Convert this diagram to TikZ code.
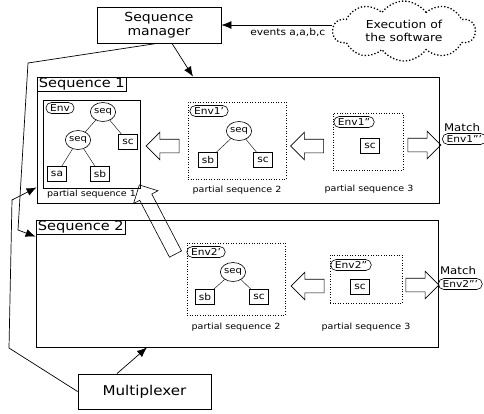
\documentclass[tikz,border=0pt]{standalone}
\usepackage{fontspec}
\setmainfont{DejaVu Sans}[FakeStretch=1.12]
\usetikzlibrary{shapes,arrows,arrows.meta,positioning,shapes.symbols,shapes.arrows,shapes.misc}
\tikzstyle{block} = [draw, rectangle, line width=0.8pt, align=center, inner sep=0pt, font=\fontsize{12.5}{14}\selectfont]
\tikzstyle{execcloud} = [draw, cloud, dotted, line width=1.3pt, cloud puffs=10, cloud puff arc=110, cloud ignores aspect, minimum width=142pt, minimum height=60pt, inner sep=0pt, align=center, font=\fontsize{11}{13}\selectfont]
\tikzstyle{flow} = [-{Latex[length=10pt,width=8pt]}, line width=0.7pt]
\tikzstyle{seqbox} = [draw, rectangle, line width=0.8pt, inner sep=0pt]
\tikzstyle{seqtitle} = [draw, rectangle, anchor=north west, inner xsep=2pt, inner ysep=0pt, minimum height=14pt, line width=0.6pt, font=\fontsize{13}{14}\selectfont]
\tikzstyle{partial} = [draw, rectangle, line width=0.6pt, inner sep=0pt]
\tikzstyle{dotpartial} = [partial, dotted]
\tikzstyle{pslabel} = [inner sep=1pt, font=\fontsize{8.5}{10}\selectfont]
\tikzstyle{leaf} = [draw, rectangle, line width=0.6pt, minimum width=19pt, minimum height=15pt, inner sep=1pt, font=\fontsize{9.5}{10}\selectfont]
\tikzstyle{op} = [draw, ellipse, line width=0.6pt, minimum width=23pt, minimum height=19pt, inner sep=0pt, font=\fontsize{9}{10}\selectfont]
\tikzstyle{env} = [draw, rounded rectangle, line width=0.6pt, inner xsep=3pt, inner ysep=0pt, minimum height=11pt, font=\fontsize{9.5}{10}\selectfont]
\tikzstyle{hollow} = [draw, single arrow, line width=0.6pt, inner xsep=0pt, inner ysep=6.5pt, single arrow head extend=7pt, minimum height=33pt]
\tikzstyle{matchtext} = [inner sep=0pt, font=\fontsize{10.5}{12}\selectfont]

\begin{document}
\begin{tikzpicture}[x=1pt,y=-1pt]
\useasboundingbox (0,0) rectangle (484,413);

\node[block, minimum width=124pt, minimum height=36pt] (manager) at (159,25) {Sequence\\manager};
\node[execcloud] (exec) at (404,31) {Execution of\\the software};
\draw[flow] (exec.west |- manager.east) -- node[pos=0.4, below, inner sep=3pt, font=\fontsize{9.5}{11}\selectfont] {events a,a,b,c} (manager.east);

% first sequence
\node[seqbox, minimum width=402pt, minimum height=126pt] (seq1) at (238,140) {};
\node[seqtitle] (seq1title) at (seq1.north west) {Sequence 1};

\node[partial, minimum width=97pt, minimum height=88pt] (ps11) at (91.5,144) {};
\node[pslabel, below=1pt of ps11] (ps11label) {partial sequence 1};
\node[env] (env11) at (60,108) {Env};
\node[op] (op11a) at (103,112) {seq};
\node[op] (op11b) at (78,140) {seq};
\node[leaf] (sc11) at (128,142) {sc};
\node[leaf] (sa11) at (57,174) {sa};
\node[leaf] (sb11) at (100,174) {sb};
\draw (op11a) -- (op11b);
\draw (op11a) -- (sc11);
\draw (op11b) -- (sa11);
\draw (op11b) -- (sb11);

\node[dotpartial, minimum width=98pt, minimum height=77pt] (ps12) at (237,140.5) {};
\node[pslabel] (ps12label) at (237,190) {partial sequence 2};
\node[env] (env12) at (209,111) {Env1'};
\node[op] (op12) at (239,131) {seq};
\node[leaf] (sb12) at (208,160) {sb};
\node[leaf] (sc12) at (263,160) {sc};
\draw (op12) -- (sb12);
\draw (op12) -- (sc12);

\node[dotpartial, minimum width=70pt, minimum height=57pt] (ps13) at (368,141.5) {};
\node[pslabel] (ps13label) at (369,189) {partial sequence 3};
\node[env] (env13) at (354,122) {Env1''};
\node[leaf] (sc13) at (370,146) {sc};

\node[hollow, shape border rotate=180] (back11) at (166,146) {};
\node[hollow, shape border rotate=180] (back12) at (310.5,146) {};
\node[hollow] (fwd1) at (421,145) {};
\node[matchtext] (match1) at (462,128) {Match};
\node[env, anchor=west] (env1end) at (442,139) {Env1'''};

% second sequence
\node[seqbox, minimum width=402pt, minimum height=127pt] (seq2) at (237,283.5) {};
\node[seqtitle] (seq2title) at (seq2.north west) {Sequence 2};

\node[dotpartial, minimum width=98pt, minimum height=72pt] (ps22) at (236,279) {};
\node[pslabel] (ps22label) at (236,327) {partial sequence 2};
\node[env] (env22) at (206,252) {Env2'};
\node[op] (op22) at (233,272) {seq};
\node[leaf] (sb22) at (205,297) {sb};
\node[leaf] (sc22) at (259,297) {sc};
\draw (op22) -- (sb22);
\draw (op22) -- (sc22);

\node[dotpartial, minimum width=72pt, minimum height=48pt] (ps23) at (366,279) {};
\node[pslabel] (ps23label) at (366,327) {partial sequence 3};
\node[env] (env23) at (351,265) {Env2''};
\node[leaf] (sc23) at (360,287) {sc};

\node[hollow, shape border rotate=180] (back22) at (311,286) {};
\node[hollow] (fwd2) at (419,285) {};
\node[matchtext] (match2) at (458,271) {Match};
\node[env, anchor=west] (env2end) at (438,284) {Env2'''};

\node[hollow, minimum height=78pt, rotate=117.6] (jump) at (159,222.5) {};

\node[block, minimum width=133pt, minimum height=35pt, font=\fontsize{13.5}{15}\selectfont] (mux) at (144.5,391.5) {Multiplexer};

\draw[flow] ([xshift=13pt]manager.south) -- ([xshift=-45pt]seq1.north);
\draw[flow] ([xshift=-2pt]manager.south) -- (28,63) -- (18,230) -- ([yshift=-17pt]seq2.north west);
\draw[flow] (mux.west) -- (9,348) -- (12,200) -- ([yshift=16pt]seq1.south west);
\draw[flow] ([xshift=-27.5pt]mux.north) -- ([xshift=-90pt]seq2.south);
\end{tikzpicture}
\end{document}
